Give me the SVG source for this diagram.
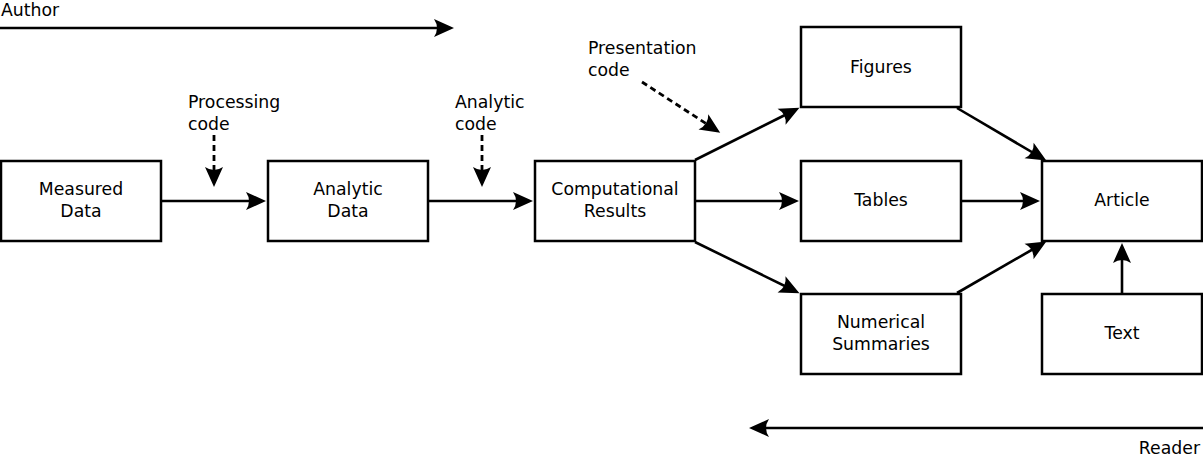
<svg xmlns="http://www.w3.org/2000/svg" width="1203" height="457" viewBox="0 0 1203 457">
<style>
.box{fill:#fff;stroke:#000;stroke-width:2.5}
.t{font-family:"DejaVu Sans",sans-serif;font-size:17.3px;fill:#000}
.c{text-anchor:middle}
.ln{fill:none;stroke:#000;stroke-width:2.6;marker-end:url(#ah)}
.ds{fill:none;stroke:#000;stroke-width:2.8;stroke-dasharray:6,4;marker-end:url(#ah)}
</style>
<defs>
<marker id="ah" markerUnits="userSpaceOnUse" viewBox="-20 -10 30 20" refX="0" refY="0" markerWidth="30" markerHeight="20" orient="auto" overflow="visible">
<path d="M5,0 L-15,-9 Q-9,0 -15,9 Z" fill="#000"/>
</marker>
</defs>
<rect width="1203" height="457" fill="#fff"/>
<g id="connectors">
<line class="ln" x1="0" y1="28" x2="449" y2="28"/>
<line class="ln" x1="1203" y1="428" x2="754" y2="428"/>
<line class="ln" x1="162" y1="201" x2="261" y2="201"/>
<line class="ln" x1="429" y1="201" x2="528" y2="201"/>
<line class="ln" x1="696" y1="201" x2="794" y2="201"/>
<line class="ln" x1="962" y1="201" x2="1035" y2="201"/>
<line class="ln" x1="695" y1="160" x2="795" y2="110"/>
<line class="ln" x1="695" y1="242" x2="795" y2="291"/>
<line class="ln" x1="957" y1="108" x2="1042" y2="158"/>
<line class="ln" x1="957" y1="293" x2="1042" y2="244"/>
<line class="ln" x1="1122" y1="294" x2="1122" y2="248"/>
<line class="ds" x1="214" y1="135" x2="214" y2="182"/>
<line class="ds" x1="482" y1="135" x2="482" y2="182"/>
<line class="ds" x1="642" y1="82" x2="716" y2="130"/>
</g>
<g id="author"><text class="t" x="1" y="16">Author</text></g>
<g id="reader"><text class="t" x="1200" y="454" text-anchor="end">Reader</text></g>
<g id="processing-code"><text class="t" x="188" y="108">Processing</text><text class="t" x="188" y="130">code</text></g>
<g id="analytic-code"><text class="t" x="455" y="108">Analytic</text><text class="t" x="455" y="130">code</text></g>
<g id="presentation-code"><text class="t" x="588" y="54">Presentation</text><text class="t" x="588" y="76">code</text></g>
<g id="measured-data"><rect class="box" x="1" y="161" width="160" height="80"/><text class="t c" x="81" y="195">Measured</text><text class="t c" x="81" y="217">Data</text></g>
<g id="analytic-data"><rect class="box" x="268" y="161" width="160" height="80"/><text class="t c" x="348" y="195">Analytic</text><text class="t c" x="348" y="217">Data</text></g>
<g id="computational-results"><rect class="box" x="535" y="161" width="160" height="80"/><text class="t c" x="615" y="195">Computational</text><text class="t c" x="615" y="217">Results</text></g>
<g id="figures"><rect class="box" x="801" y="27" width="160" height="80"/><text class="t c" x="881" y="73">Figures</text></g>
<g id="tables"><rect class="box" x="801" y="161" width="160" height="80"/><text class="t c" x="881" y="206">Tables</text></g>
<g id="numerical-summaries"><rect class="box" x="801" y="294" width="160" height="80"/><text class="t c" x="881" y="328">Numerical</text><text class="t c" x="881" y="350">Summaries</text></g>
<g id="article"><rect class="box" x="1042" y="161" width="160" height="80"/><text class="t c" x="1122" y="206">Article</text></g>
<g id="text"><rect class="box" x="1042" y="294" width="160" height="80"/><text class="t c" x="1122" y="339">Text</text></g>
</svg>
